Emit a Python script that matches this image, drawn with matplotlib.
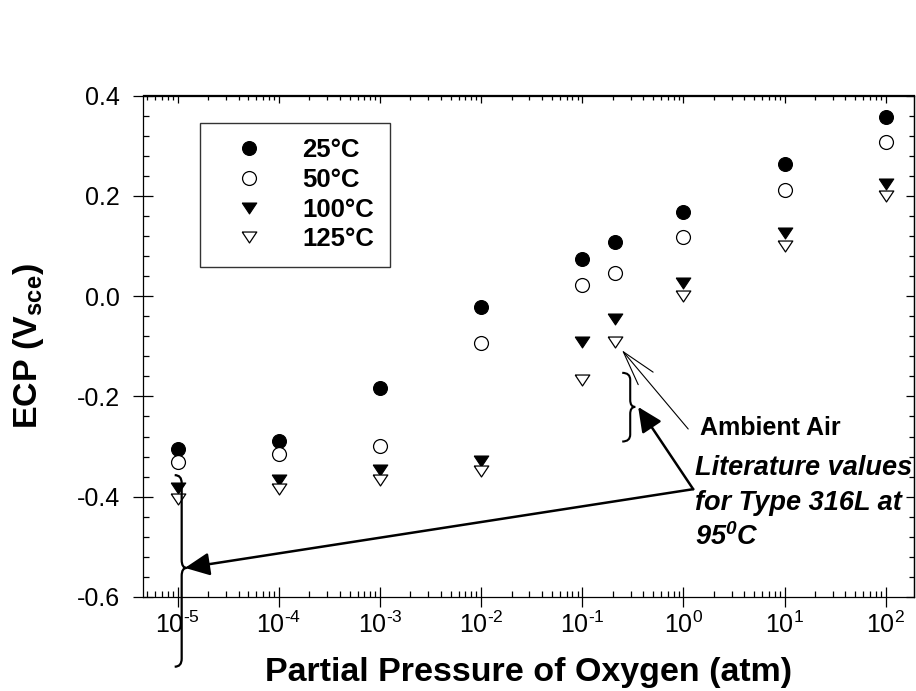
import numpy as np
import matplotlib
matplotlib.use('Agg')
import matplotlib.pyplot as plt
from matplotlib.path import Path
from matplotlib.patches import PathPatch
from matplotlib.transforms import IdentityTransform
from matplotlib.ticker import LogLocator, MultipleLocator, NullFormatter, FixedLocator

plt.rcParams['font.family'] = ['Liberation Sans', 'DejaVu Sans']
plt.rcParams['mathtext.fontset'] = 'custom'
plt.rcParams['mathtext.rm'] = 'Liberation Sans'
plt.rcParams['mathtext.it'] = 'Liberation Sans:italic'
plt.rcParams['mathtext.bf'] = 'Liberation Sans:bold'
plt.rcParams['mathtext.bfit'] = 'Liberation Sans:bold:italic'

# ---------------- data ----------------
pressure = [1e-5, 1e-4, 1e-3, 1e-2, 1e-1, 0.21, 1, 10, 100]
ecp_25 = [-0.304, -0.288, -0.184, -0.021, 0.074, 0.108, 0.168, 0.263, 0.358]
ecp_50 = [-0.330, -0.315, -0.299, -0.094, 0.022, 0.047, 0.118, 0.212, 0.308]
ecp_100 = [-0.382, -0.367, -0.347, -0.329, -0.091, -0.045, 0.027, 0.125, 0.224]
ecp_125 = [-0.405, -0.385, -0.366, -0.348, -0.167, -0.091, 0.001, 0.100, 0.200]
series_labels = ['25°C', '50°C', '100°C', '125°C']

xticks = [1e-5, 1e-4, 1e-3, 1e-2, 1e-1, 1, 10, 100]
xtick_labels = ['10$^{\u20105}$', '10$^{\u20104}$', '10$^{\u20103}$', '10$^{\u20102}$',
                '10$^{\u20101}$', '10$^{0}$', '10$^{1}$', '10$^{2}$']
yticks = [-0.6, -0.4, -0.2, 0.0, 0.2, 0.4]
ytick_labels = ['-0.6', '-0.4', '-0.2', '0.0', '0.2', '0.4']

# annotation anchors (data coords)
ambient_point = (0.21, -0.091)
ambient_text_pos = (1.46, -0.263)
ambient_line_start = (1.116, -0.265)
lit_start = (1.25, -0.385)
lit_tip1 = (1.18e-5, -0.542)
lit_tip2 = (0.357, -0.221)
lit_text_pos = (1.30, -0.343)
brace_small = dict(x=0.298, ytop=-0.153, ybot=-0.290, ymid=-0.221)
brace_big = dict(x=1.095e-5, ytop=-0.357, ybot=-0.739, ymid=-0.542)

# ---------------- figure ----------------
W, H = 916, 691
fig = plt.figure(figsize=(W / 100, H / 100), dpi=100)
ax = fig.add_axes([143 / W, 1 - 597 / H, (914 - 143) / W, (597 - 95.5) / H])
ax.set_xscale('log')
ax.set_xlim(10 ** -5.343, 10 ** 2.28)
ax.set_ylim(-0.6, 0.4)

tri_down = [(-1, 0.75), (1, 0.75), (0, -0.75), (-1, 0.75)]
ms_c = 10
ms_t = 10.5
ax.plot(pressure, ecp_25, linestyle='none', marker='o', ms=ms_c, mfc='k', mec='k', mew=0.8,
        label=series_labels[0])
ax.plot(pressure, ecp_50, linestyle='none', marker='o', ms=ms_c, mfc='white', mec='k', mew=0.9,
        label=series_labels[1])
ax.plot(pressure, ecp_100, linestyle='none', marker=tri_down, ms=ms_t, mfc='k', mec='k', mew=0.8,
        label=series_labels[2])
ax.plot(pressure, ecp_125, linestyle='none', marker=tri_down, ms=ms_t, mfc='white', mec='k', mew=0.9,
        label=series_labels[3])

# ticks
for s in ax.spines.values():
    s.set_linewidth(0.9)
ax.xaxis.set_major_locator(FixedLocator(xticks))
ax.set_xticklabels(xtick_labels)
ax.xaxis.set_minor_locator(LogLocator(base=10, subs=np.arange(2, 10), numticks=20))
ax.xaxis.set_minor_formatter(NullFormatter())
ax.set_yticks(yticks)
ax.set_yticklabels(ytick_labels)
ax.yaxis.set_minor_locator(MultipleLocator(0.04))
ax.tick_params(which='major', direction='inout', length=15, width=0.9, labelsize=18)
ax.tick_params(axis='x', which='major', pad=3)
ax.tick_params(axis='y', which='major', pad=9)
ax.tick_params(which='minor', direction='in', length=4, width=0.9)
ax.tick_params(top=False, right=False, which='both')

sx = ax.secondary_xaxis('top')
sx.xaxis.set_major_locator(FixedLocator(xticks))
sx.xaxis.set_minor_locator(LogLocator(base=10, subs=np.arange(2, 10), numticks=20))
sx.tick_params(which='major', direction='in', length=6, width=0.9, labeltop=False)
sx.tick_params(which='minor', direction='in', length=3.5, width=0.9)
sx.xaxis.set_minor_formatter(NullFormatter())
sx.spines['top'].set_linewidth(0.9)

sy = ax.secondary_yaxis('right')
sy.set_yticks(yticks)
sy.yaxis.set_minor_locator(MultipleLocator(0.04))
sy.tick_params(which='major', direction='in', length=6, width=0.9, labelright=False)
sy.tick_params(which='minor', direction='in', length=3.5, width=0.9)
sy.spines['right'].set_linewidth(0.9)

ax.set_xlabel('Partial Pressure of Oxygen (atm)', fontsize=24.5, fontweight='bold', labelpad=14)
ax.set_ylabel(r'ECP (V$_{\mathbf{sce}}$)', fontsize=24.5, fontweight='bold', labelpad=22)

leg = ax.legend(loc='upper left', bbox_to_anchor=(57 / 771, (597 - 123) / 501.5),
                borderaxespad=0, frameon=True, fancybox=False, shadow=False,
                prop={'size': 18.5, 'weight': 'bold'}, handlelength=2.6, handletextpad=0.78,
                borderpad=0.6, labelspacing=0.22)
leg.get_frame().set_edgecolor('k')
leg.get_frame().set_linewidth(1.0)

# ---------------- annotations ----------------
ax.text(*ambient_text_pos, 'Ambient Air', fontsize=18, fontweight='bold', ha='left', va='center')
ax.annotate('', xy=ambient_point, xytext=ambient_line_start,
            arrowprops=dict(arrowstyle='->,head_length=25,head_width=7', mutation_scale=1,
                            lw=0.8, color='k', shrinkA=0, shrinkB=8))

lit_lines = ['Literature values', 'for Type 316L at', r'95$^{\mathbfit{0}}$C']
for i, t in enumerate(lit_lines):
    ax.text(lit_text_pos[0], lit_text_pos[1] - i * 0.069, t, fontsize=19.5,
            fontweight='bold', fontstyle='italic', ha='left', va='center')

for tip in (lit_tip1, lit_tip2):
    ax.annotate('', xy=tip, xytext=lit_start, annotation_clip=False,
                arrowprops=dict(arrowstyle='-|>,head_length=15,head_width=7', mutation_scale=1,
                                lw=1.8, color='k', shrinkA=0, shrinkB=0))


def draw_brace(ax, x, ytop, ybot, ymid, left_px, right_px, r_px, lw):
    t = ax.transData
    xs, yt = t.transform((x, ytop))
    _, yb = t.transform((x, ybot))
    _, ym = t.transform((x, ymid))
    a, b, r = left_px, right_px, r_px
    verts = [(xs - a, yt), (xs, yt), (xs, yt - r),
             (xs, ym + r),
             (xs, ym), (xs + b, ym),
             (xs, ym), (xs, ym - r),
             (xs, yb + r),
             (xs, yb), (xs - a, yb)]
    codes = [Path.MOVETO, Path.CURVE3, Path.CURVE3,
             Path.LINETO,
             Path.CURVE3, Path.CURVE3,
             Path.CURVE3, Path.CURVE3,
             Path.LINETO,
             Path.CURVE3, Path.CURVE3]
    p = PathPatch(Path(verts, codes), transform=IdentityTransform(), fill=False,
                  lw=lw, edgecolor='k', clip_on=False)
    fig.add_artist(p)


draw_brace(ax, **brace_small, left_px=8, right_px=5, r_px=7, lw=1.5)
draw_brace(ax, **brace_big, left_px=7, right_px=5, r_px=8, lw=1.6)

fig.savefig('out.png', dpi=100)
